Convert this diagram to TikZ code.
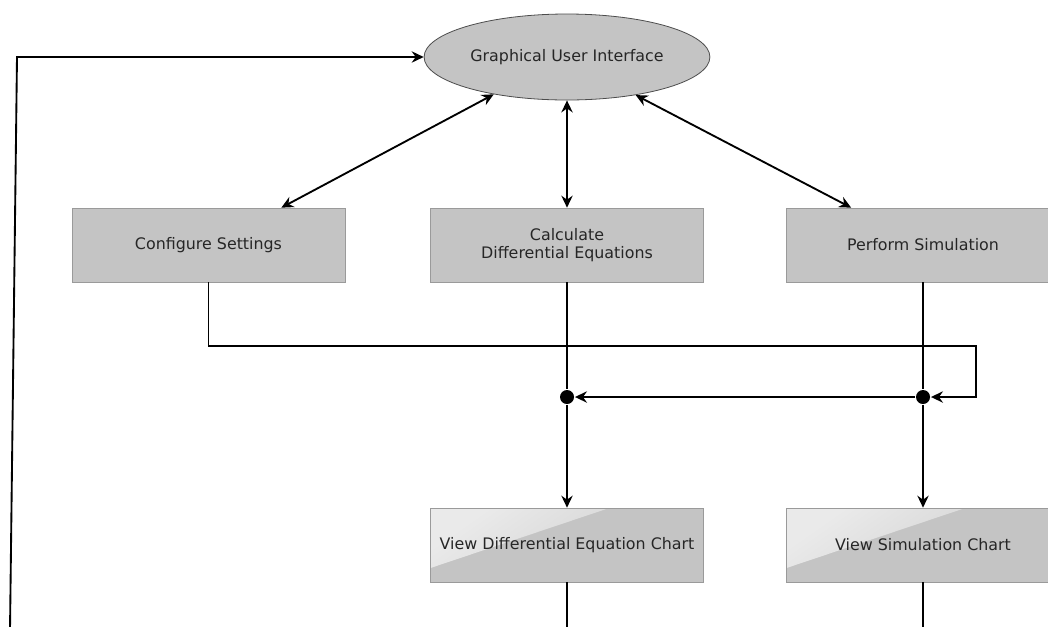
\documentclass[tikz,border=0pt]{standalone}
\usepackage{fontspec}
\setmainfont{DejaVu Sans}
\usepackage{xcolor}
\usetikzlibrary{arrows.meta, shapes.geometric, positioning, calc}

\definecolor{boxgray}{HTML}{C4C4C4}
\definecolor{edgegray}{HTML}{9A9A9A}

\begin{document}
\begin{tikzpicture}[
  x=0.75pt, y=-0.75pt,
  font=\fontsize{11.9pt}{13.6pt}\selectfont,
  line width=1.4pt,
  >={Stealth[length=9pt, width=8.5pt, inset=3pt]},
  taskbox/.style={rectangle, fill=boxgray, draw=edgegray, line width=0.5pt,
    minimum width=204.75pt, minimum height=55.5pt, align=center, text=black!85},
  chartbox/.style={taskbox, path picture={
    \shade[top color=white!65!boxgray, bottom color=white!12!boxgray, shading angle=35]
      (path picture bounding box.north west) -- ++(134pt,0) -- ++(-134pt,-45pt) -- cycle;}},
  uibox/.style={ellipse, fill=boxgray, draw=black!70, line width=0.6pt,
    minimum width=208pt, minimum height=64.5pt, text=black!85},
  junction/.style={circle, fill=black, inner sep=0pt, minimum size=10.5pt}
]
  \useasboundingbox (0,0) rectangle (1048,626);

  % main nodes
  \node[uibox] (gui) at (567,57) {Graphical User Interface};
  \node[taskbox] (cfg) at (208.5,245) {Configure Settings};
  \node[taskbox] (calc) at (567,245) {Calculate\\Differential Equations};
  \node[taskbox] (sim) at (923,245) {Perform Simulation};
  \node[chartbox] (vdc) at (567,545) {View Differential Equation Chart};
  \node[chartbox] (vsc) at (923,545) {View Simulation Chart};

  % junctions
  \node[junction] (cjn) at (567,397) {};
  \node[junction] (sjn) at (923,397) {};

  % free ends below the picture
  \coordinate (vdcout) at (567,630);
  \coordinate (vscout) at (923,630);
  \coordinate (loopin) at (10,630);
  \coordinate (loopcorner) at (17,57);

  % connectors
  \draw[<->] (gui.207) -- ($(cfg.north east)+(-64,0)$);
  \draw[<->] (gui.south) -- (calc.north);
  \draw[<->] (gui.331) -- ($(sim.north west)+(65,0)$);

  \draw (calc.south) -- (cjn);
  \draw[->] (cjn) -- (vdc.north);
  \draw (sim.south) -- (sjn);
  \draw[->] (sjn) -- (vsc.north);

  \draw[->] (cfg.south) |- ($(sjn)+(53,-51)$) |- (sjn);
  \draw[->] (sjn) -- (cjn);

  \draw (vdc.south) -- (vdcout);
  \draw (vsc.south) -- (vscout);
  \draw[->] (loopin) -- (loopcorner) -- (gui.west);
\end{tikzpicture}
\end{document}
